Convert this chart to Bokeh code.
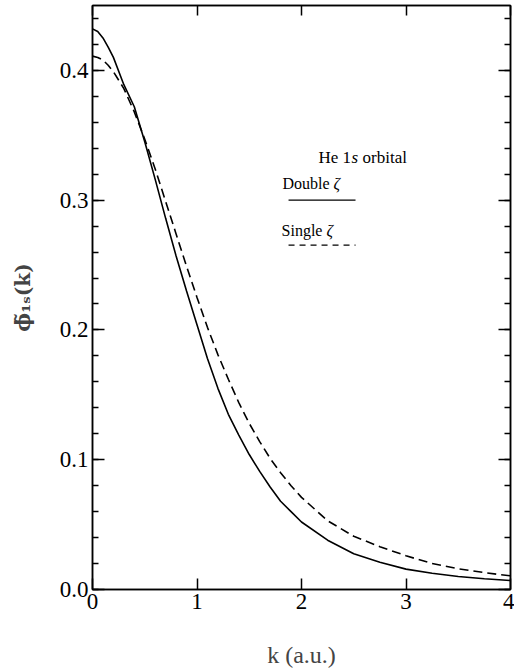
from bokeh.plotting import figure
from bokeh.models import (Range1d, SingleIntervalTicker, LinearAxis, Label,
                          ColumnDataSource, CustomJSTickFormatter)
from bokeh.embed import file_html
from bokeh.resources import INLINE

# ---- data ----
k_values = [0.0, 0.05, 0.1, 0.15, 0.2, 0.3, 0.4, 0.5, 0.6, 0.7, 0.8, 0.9, 1.0,
            1.1, 1.2, 1.3, 1.4, 1.5, 1.6, 1.7, 1.8, 1.9, 2.0, 2.25, 2.5,
            2.75, 3.0, 3.25, 3.5, 3.75, 4.0]
double_zeta = [0.432, 0.430, 0.425, 0.418, 0.410, 0.389, 0.372, 0.345, 0.316,
               0.286, 0.257, 0.230, 0.204, 0.178, 0.155, 0.135, 0.119, 0.104,
               0.091, 0.079, 0.068, 0.060, 0.052, 0.038, 0.0275, 0.021,
               0.0157, 0.0125, 0.0100, 0.0083, 0.0069]
single_zeta = [0.411, 0.410, 0.408, 0.404, 0.399, 0.386, 0.368, 0.347, 0.324,
               0.299, 0.274, 0.249, 0.225, 0.202, 0.181, 0.162, 0.144, 0.128,
               0.114, 0.101, 0.090, 0.080, 0.071, 0.053, 0.041, 0.033,
               0.026, 0.020, 0.016, 0.013, 0.0105]
x_ticks = [0, 1, 2, 3, 4]
y_ticks = [0.0, 0.1, 0.2, 0.3, 0.4]

FONT = "Liberation Serif"

src = ColumnDataSource(dict(k=k_values, dz=double_zeta, sz=single_zeta))

p = figure(width=514, height=671, output_backend="svg", toolbar_location=None,
           x_range=Range1d(0, 4), y_range=Range1d(0, 0.45),
           min_border_left=92, min_border_right=4, min_border_top=5,
           min_border_bottom=82, x_axis_type=None, y_axis_type=None)
p.background_fill_color = None
p.border_fill_color = "white"
p.grid.visible = False
p.outline_line_color = "black"
p.outline_line_width = 1.5

def style_axis(ax, ticker, labels=True, tick_len=11, minor_len=6):
    ax.ticker = ticker
    ax.axis_line_color = "black"
    ax.axis_line_width = 1.5
    ax.major_tick_line_color = "black"
    ax.minor_tick_line_color = "black"
    ax.major_tick_line_width = 1.5
    ax.minor_tick_line_width = 1.5
    ax.major_tick_in = tick_len
    ax.major_tick_out = 0
    ax.minor_tick_in = minor_len
    ax.minor_tick_out = 0
    ax.major_label_text_font = FONT
    ax.major_label_text_font_size = "23px"
    ax.major_label_text_color = "black"
    if not labels:
        ax.major_label_text_alpha = 0
        ax.major_label_text_font_size = "1px"
        ax.major_label_standoff = 0

xt = SingleIntervalTicker(interval=1, num_minor_ticks=0)
yt = SingleIntervalTicker(interval=0.1, num_minor_ticks=5)

bottom = LinearAxis()
style_axis(bottom, xt)
bottom.major_label_standoff = 4
bottom.axis_label = "k (a.u.)"
bottom.axis_label_text_font = FONT
bottom.axis_label_text_font_size = "24px"
bottom.axis_label_text_font_style = "normal"
bottom.axis_label_standoff = 30
p.add_layout(bottom, "below")

left = LinearAxis()
style_axis(left, yt, tick_len=12)
left.major_label_standoff = 4
left.formatter = CustomJSTickFormatter(code="return tick.toFixed(1);")
left.axis_label = "\u03d5\u0303\u2081\u209b(k)"
left.axis_label_text_font = "DejaVu Serif"
left.axis_label_text_font_size = "20px"
left.axis_label_text_font_style = "bold"
left.axis_label_standoff = 22
p.add_layout(left, "left")

top = LinearAxis()
style_axis(top, SingleIntervalTicker(interval=1, num_minor_ticks=0), labels=False, tick_len=10)
p.add_layout(top, "above")

right = LinearAxis()
style_axis(right, SingleIntervalTicker(interval=0.1, num_minor_ticks=5), labels=False, tick_len=12)
p.add_layout(right, "right")

# curves
p.line("k", "dz", source=src, line_color="black", line_width=1.6)
p.line("k", "sz", source=src, line_color="black", line_width=1.6, line_dash="9 5")

# annotation texts
def lab(x, y, text, style="normal", size="17px", xoff=0):
    p.add_layout(Label(x=x, y=y, text=text, text_font=FONT, text_font_size=size,
                       text_font_style=style, text_baseline="middle",
                       text_align="left", text_color="black", x_offset=xoff))

lab(2.163, 0.333, "He 1")
lab(2.163, 0.333, "s", style="italic", xoff=33)
lab(2.163, 0.333, "orbital", xoff=44)
lab(1.818, 0.313, "Double", size="16px")
lab(1.818, 0.313, "\u03b6", size="16px", style="italic", xoff=51)
lab(1.809, 0.277, "Single", size="16px")
lab(1.809, 0.277, "\u03b6", size="16px", style="italic", xoff=45)

# legend samples
p.segment(x0=[1.876], y0=[0.300], x1=[2.517], y1=[0.300], line_color="black", line_width=1.3)
p.segment(x0=[1.876], y0=[0.2654], x1=[2.517], y1=[0.2654], line_color="black",
          line_width=1.3, line_dash="6 5")

open("out.html", "w").write(file_html(p, INLINE))
